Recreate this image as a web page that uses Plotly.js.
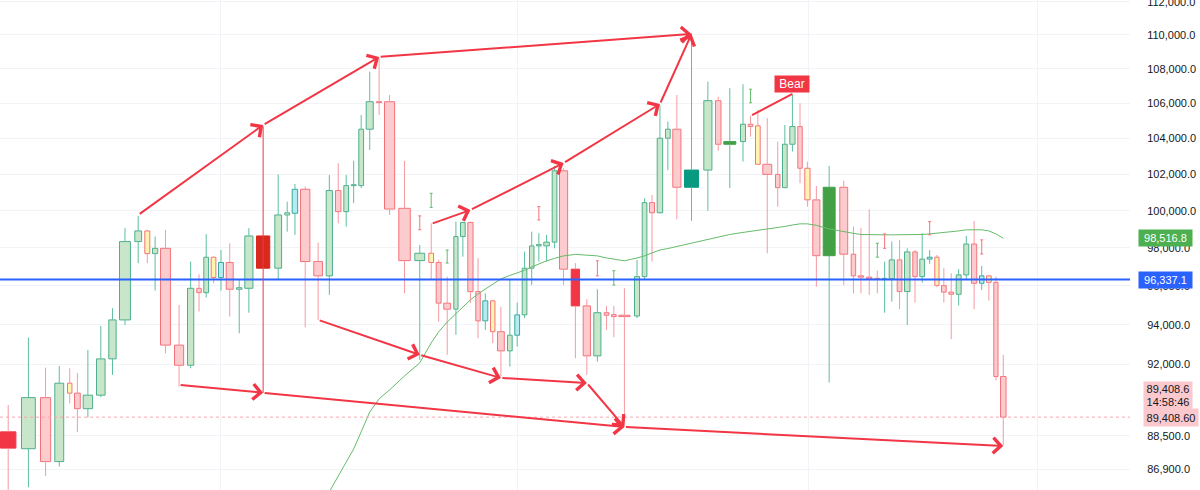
<!DOCTYPE html>
<html><head><meta charset="utf-8">
<script src="https://cdn.plot.ly/plotly-3.0.1.min.js"></script>
<style>html,body{margin:0;padding:0;background:#fff;}#chart{width:1200px;height:490px;}</style>
</head><body><div id="chart"></div>
<script>
// ---------- DATA ----------
// relative volume of each candle (equivolume widths)
const volume = [21,19,14.3,12.7,7,8.7,13.3,12.3,10.7,15.3,
10,7.7,8,14,13,9.3,7,7.4,7.3,7.7,
10.3,8.3,11.7,18.3,10,7.4,8.3,13.3,12.4,9.3,
8.3,7.4,7.6,7.4,10.3,8,14.3,16,14,7.4,
7.6,10,6.7,7.3,8,7,7.7,7,10,7.3,
7.4,7.3,7,7.3,8.4,7.3,11.7,12,10.6,10.4,
7.3,7.3,15.7,7.7,7.3,7.7,8.3,7.3,11.7,19.3,
11.7,8.3,16.7,7.7,7.3,7.3,12.7,7,7.3,8,
7,8,10.4,16.6,11.4,7,8.3,8.3,7.7,6.7,
8,7.3,8.3,7,7.4,7.6,6.7,7.3,7.4,7.6,
7.7,8,7,7.3,6.7,8.4];
const openP = [88700,87890,90360,87280,91070,90580,89820,90480,92280,94250,
98340,98910,97700,97980,92970,91960,95880,95650,97510,96440,
97230,95830,95880,98640,96930,99770,99860,101170,97280,96530,
101100,99950,101370,101370,104520,106090,106090,100130,97330,97720,
97230,95110,94800,98610,99360,95710,94200,95230,93650,92680,
93470,94510,96930,98110,98110,98310,102190,96880,94970,92430,
94620,94520,94490,94450,96490,100440,99890,104010,104520,101280,
102230,106150,103670,103820,104800,104710,102550,101990,101260,103670,
104670,102330,100590,97590,101280,97670,96530,96460,96400,96350,
96380,97370,95710,97790,96490,97410,97510,96020,95680,95570,
96580,98210,96140,96530,96190,91400];
const highP = [90000,93350,91840,91930,91810,91570,92730,93940,94850,99060,
99720,98970,98610,98970,95020,97280,96620,98740,97540,97890,
98250,96350,99060,98700,101990,100490,101460,101320,98280,101960,
102610,101960,102750,105330,107830,108640,106480,102740,98160,99320,
97370,96490,99410,99410,99410,97460,95620,95280,94930,96320,
95140,97810,98870,98790,98700,102460,102320,97200,95320,95830,
94970,94970,95880,97370,100680,100860,105900,104950,106480,110100,
107250,106380,106870,107100,105280,105620,105150,103820,104760,106480,
106000,102700,101350,102460,101640,99140,99060,100070,96800,97280,
98340,98430,97980,97890,98790,97890,97630,96930,96670,96880,
98640,99450,97050,96580,96490,92480];
const lowP = [85950,86070,86600,87040,90080,88680,89390,90380,91480,93990,
97200,97200,95760,92560,90900,91810,94680,95400,96140,95760,
94420,93570,94620,96900,96320,98870,98700,93870,94250,95540,
99320,99140,100410,101230,103350,105330,99770,95620,92230,96320,
94160,92480,93490,97540,95110,93320,93740,93070,91400,91890,
92900,94340,96050,97280,97280,97980,96050,92310,91480,92140,
93740,93370,89280,94340,96320,97280,99860,102230,99540,99460,
100000,103310,101230,102700,104100,102510,97720,100220,101230,103260,
101500,100220,95960,91100,96050,95620,95620,95540,95620,94620,
95190,94800,93990,95140,96170,97160,95960,95140,93270,94990,
96320,94800,95790,95240,91200,88070];
const closeP = [87920,90360,87280,91070,90580,89820,90480,92280,94250,98340,
98910,97700,97980,92970,91960,95880,95650,97510,96440,97230,
95830,95910,98640,96930,99770,99890,101170,97280,96530,101100,
99950,101370,101420,104520,106090,106040,100090,97330,97720,97230,
95110,94800,98610,99360,95710,94200,95230,93650,92680,93470,
94510,96930,98110,98180,98310,102190,96880,94970,92430,94620,
94490,94420,94420,96490,100440,99890,104010,104520,101280,102230,
106150,103670,103820,104800,104670,102550,101990,101260,103670,104670,
102330,100590,97590,101280,97670,96530,96460,96380,96350,96400,
97370,95710,97790,96490,97410,97510,96020,95680,95570,96580,
98210,96140,96530,96190,91400,89408.6];
// volume class of each candle: u up, d down, y low-volume down, c low-volume up,
// D / R high-volume down, T / G high-volume up
const candleClass = ['D','u','d','u','y','d','u','u','u','u',
'u','y','u','d','d','u','d','u','y','c',
'd','u','u','R','u','u','c','d','d','u',
'd','u','u','u','u','d','d','d','u','y',
'd','d','u','u','d','d','c','y','d','u',
'c','u','u','u','u','u','d','D','d','u',
'd','d','d','u','u','d','u','u','d','T',
'u','d','G','u','d','y','d','d','u','u',
'd','y','d','G','d','d','d','d','d','u',
'u','d','u','d','u','c','y','d','d','u',
'u','d','c','y','d','d'];
// moving average (null before it starts)
const maValues = [null,null,null,null,null,null,null,null,null,null,
null,null,null,null,null,null,null,null,null,null,
null,null,null,null,null,null,null,null,null,85860,
86600,87260,87880,88700,89660,90300,90740,91430,92080,93080,
93640,94140,94560,94920,95280,95590,95850,96110,96370,96550,
96680,96820,97000,97160,97320,97450,97580,97660,97630,97580,
97470,97400,97320,97470,97580,97740,97890,97970,98080,98270,
98480,98590,98720,98830,98890,98940,98990,99070,99150,99230,
99290,99290,99210,99020,98860,98780,98720,98700,98700,98700,
98700,98700,98700,98700,98720,98750,98780,98810,98860,98910,
98970,98970,98970,98910,98750,98516.8];
// small signal marks (candle index, high, low, class)
const markIdx = [38,39,41,53,59,61,74,88,89,95,102];
const markHigh = [99720,100950,97890,100220,97320,96800,106810,98250,98750,99410,98430];
const markLow = [98970,100180,97200,99500,96530,96050,106030,97510,97980,98700,97680];
const markClass = ['d','u','u','d','d','u','u','u','d','d','d'];
// drawn trend segments (from candle/price -> to candle/price, arrow flag)
const segFromIdx = [10,23,35,66,39,44,56,74,14,23,62,28,38,48,58,23];
const segFromPrice = [99770,104760,108700,105960,99290,100040,102620,105280,90990,90600,88930,94250,92480,91330,91080,104760];
const segToIdx = [23,35,69,69,44,56,66,79,23,62,105,38,48,58,62,23];
const segToPrice = [104760,108700,110060,110060,100040,102620,105960,106540,90600,88930,88020,92480,91330,91080,88930,90600];
const segArrow = [1,1,1,1,1,1,1,0,1,1,1,1,1,1,1,0];
const yTicks = [86900,88500,92000,94000,96000,98000,100000,102000,104000,106000,108000,110000,112000];
const signalText = 'Bear';
const signalIdx = 79;
const signalPrice = 106540;
const horizontalLevel = 96337.1;
const lastPrice = 89408.6;
const maLast = 98516.8;
const countdown = '14:58:46';

// ---------- LAYOUT / STYLE ----------
const X_MAX = 1130;
const Y_RANGE = [4.93422, 5.04963];
const FONT = 'Liberation Sans, Arial, sans-serif';
const RED = '#f23645';
const fills = {u:'#c8e6c9', d:'#fccbce', y:'#fff4b0', c:'#b2ebf2', D:'#f23645', R:'#d8291f', T:'#089981', G:'#43a047'};
const lines = {u:'#4fae8e', d:'#f5737b', y:'#f5737b', c:'#3aa99a', D:'#f23645', R:'#d8291f', T:'#089981', G:'#43a047'};
const isUp = k => (k==='u'||k==='c'||k==='T'||k==='G');

const xC = [], bodyW = [];
let left = 0;
volume.forEach(v => { xC.push(left + v*0.39); bodyW.push(v*0.78 - 1); left += v; });

const bodyBase = [], bodySize = [];
for (let i=0;i<openP.length;i++){
  bodyBase.push(Math.min(openP[i],closeP[i]));
  bodySize.push(Math.abs(closeP[i]-openP[i]));
}
function wickTrace(up){
  const xs=[], ys=[];
  for (let i=0;i<openP.length;i++){
    if (isUp(candleClass[i])!==up) continue;
    const lo=Math.min(openP[i],closeP[i]), hi=Math.max(openP[i],closeP[i]);
    xs.push(xC[i],xC[i],null,xC[i],xC[i],null);
    ys.push(lowP[i],lo,null,hi,highP[i],null);
  }
  return {type:'scatter',mode:'lines',x:xs,y:ys,line:{color: up?'#5cbf9f':'#f59aa1',width:1},hoverinfo:'skip',showlegend:false};
}
function markTrace(up){
  const xs=[],ys=[],ep=[],em=[];
  markIdx.forEach((ci,k)=>{
    if ((markClass[k]==='u')!==up) return;
    const mid=(markHigh[k]+markLow[k])/2;
    xs.push(xC[ci]); ys.push(mid); ep.push(markHigh[k]-mid); em.push(mid-markLow[k]);
  });
  return {type:'scatter',mode:'markers',x:xs,y:ys,marker:{size:1,color:'rgba(0,0,0,0)'},
    error_y:{type:'data',symmetric:false,array:ep,arrayminus:em,width:1.5,thickness:1,color: up?'#66bb6a':'#f5737b'},
    hoverinfo:'skip',showlegend:false};
}

const traces = [
  {type:'bar',x:xC,y:bodySize,base:bodyBase,width:bodyW,
   marker:{color:candleClass.map(k=>fills[k]),line:{color:candleClass.map(k=>lines[k]),width:1}},
   hoverinfo:'skip',showlegend:false},
  wickTrace(true), wickTrace(false),
  {type:'scatter',mode:'lines',x:xC,y:maValues,line:{color:'#66bb6a',width:1},hoverinfo:'skip',showlegend:false},
  markTrace(true), markTrace(false),
  {type:'scatter',mode:'lines',x:[0,X_MAX],y:[horizontalLevel,horizontalLevel],line:{color:'#2962ff',width:2},hoverinfo:'skip',showlegend:false},
  {type:'scatter',mode:'lines',x:[0,X_MAX],y:[lastPrice,lastPrice],line:{color:'#f7a6ae',width:1,dash:'dot'},hoverinfo:'skip',showlegend:false}
];

const L = Math.log10;
const annotations = [];
for (let s=0;s<segFromIdx.length;s++){
  annotations.push({x:xC[segToIdx[s]],y:L(segToPrice[s]),ax:xC[segFromIdx[s]],ay:L(segFromPrice[s]),
    xref:'x',yref:'y',axref:'x',ayref:'y',text:'',showarrow:true,
    arrowhead: segArrow[s]?4:0, arrowsize:1.5, arrowwidth: (segFromIdx[s]===segToIdx[s])?1:2, arrowcolor:RED});
}
annotations.push({x:xC[signalIdx],y:L(signalPrice),xref:'x',yref:'y',text:signalText,showarrow:false,
  yanchor:'bottom',yshift:1,bgcolor:RED,width:32,height:14,borderpad:1,font:{family:FONT,size:12,color:'#fff'}});
function axisLabel(price,text,bg,fg,w,h,xs,ys){
  return {xref:'paper',x:1,xanchor:'left',xshift:xs,yref:'y',y:L(price),yshift:ys||0,yanchor:'middle',
    text:text,showarrow:false,bgcolor:bg,width:w,height:h,borderpad:1,font:{family:FONT,size:11,color:fg}};
}
annotations.push(axisLabel(maLast,'98,516.8','#4caf50','#fff',51,14,8));
annotations.push(axisLabel(horizontalLevel,'96,337.1','#2962ff','#fff',51,14,8));
annotations.push(axisLabel(lastPrice,'89,408.6','#fbc9cd','#131722',46,12,13,28.5));
annotations.push(axisLabel(lastPrice,countdown,'#fbc9cd','#131722',46,12,13,15.3));
annotations.push(axisLabel(lastPrice,'89,408.60','#fbc9cd','#131722',52,15,13,0));

const layout = {
  width:1200,height:490,margin:{l:0,r:70,t:0,b:0},
  paper_bgcolor:'#fff',plot_bgcolor:'#fff',barmode:'overlay',showlegend:false,
  font:{family:FONT,size:11,color:'#131722'},
  xaxis:{range:[0,X_MAX],showticklabels:false,tickvals:[220,517,808,1037],gridcolor:'#f2f3f6',zeroline:false,showline:false,fixedrange:true},
  yaxis:{type:'log',side:'right',range:Y_RANGE,tickvals:yTicks,tickformat:',.1f',gridcolor:'#f2f3f6',
    ticks:'outside',ticklen:14,tickcolor:'rgba(0,0,0,0)',tickfont:{family:FONT,size:11,color:'#131722'},
    ticklabeloverflow:'allow',zeroline:false,showline:false,fixedrange:true},
  annotations:annotations,
  hovermode:false
};
Plotly.newPlot('chart',traces,layout,{displayModeBar:false,staticPlot:true});
</script></body></html>
